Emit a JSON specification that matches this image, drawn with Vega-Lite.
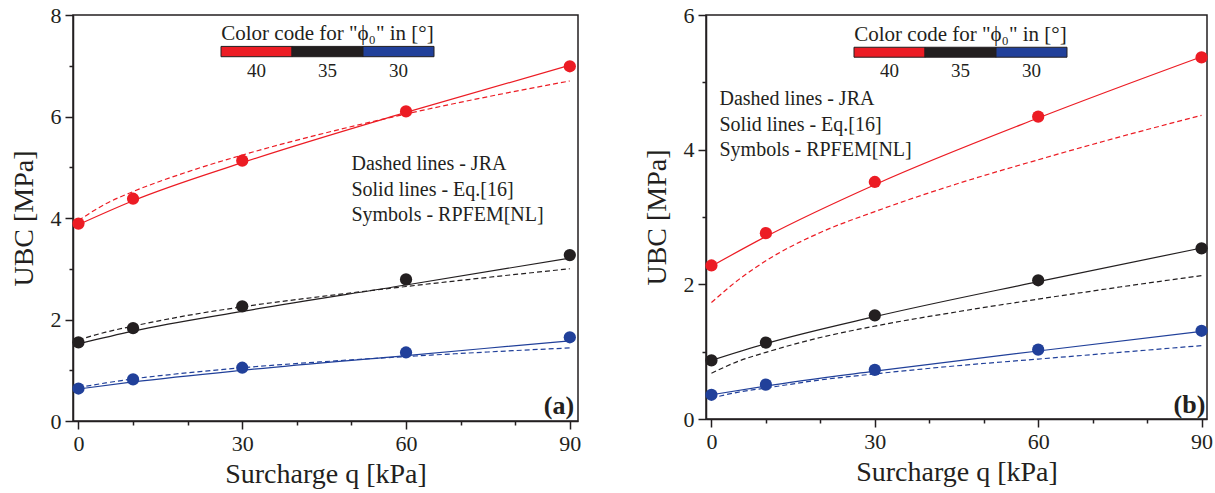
{
  "$schema": "https://vega.github.io/schema/vega-lite/v6.json",
  "background": "white",
  "padding": {"left": 9, "top": 3, "right": 2, "bottom": 5},
  "spacing": 60,
  "config": {
    "font": "Liberation Serif",
    "view": {"stroke": "#231f20", "strokeWidth": 1.5},
    "axis": {
      "grid": false,
      "domainColor": "#231f20", "domainWidth": 1.5,
      "tickColor": "#231f20", "tickWidth": 1.5,
      "labelFont": "Liberation Serif", "labelFontSize": 22, "labelColor": "#231f20",
      "titleFont": "Liberation Serif", "titleFontSize": 28, "titleFontWeight": "normal", "titleColor": "#231f20"
    }
  },
  "datasets": {
    "a": [
      {"phi": "40", "src": "FEM", "q": 0, "ubc": 3.89}, {"phi": "40", "src": "FEM", "q": 10, "ubc": 4.38}, {"phi": "40", "src": "FEM", "q": 30, "ubc": 5.13}, {"phi": "40", "src": "FEM", "q": 60, "ubc": 6.10}, {"phi": "40", "src": "FEM", "q": 90, "ubc": 6.99},
      {"phi": "40", "src": "Eq16", "q": 0, "ubc": 3.87}, {"phi": "40", "src": "Eq16", "q": 10, "ubc": 4.34}, {"phi": "40", "src": "Eq16", "q": 30, "ubc": 5.09}, {"phi": "40", "src": "Eq16", "q": 60, "ubc": 6.08}, {"phi": "40", "src": "Eq16", "q": 90, "ubc": 7.01},
      {"phi": "40", "src": "JRA", "q": 0, "ubc": 3.95}, {"phi": "40", "src": "JRA", "q": 5, "ubc": 4.28}, {"phi": "40", "src": "JRA", "q": 10, "ubc": 4.52}, {"phi": "40", "src": "JRA", "q": 20, "ubc": 4.91}, {"phi": "40", "src": "JRA", "q": 30, "ubc": 5.24}, {"phi": "40", "src": "JRA", "q": 45, "ubc": 5.67}, {"phi": "40", "src": "JRA", "q": 60, "ubc": 6.05}, {"phi": "40", "src": "JRA", "q": 75, "ubc": 6.39}, {"phi": "40", "src": "JRA", "q": 90, "ubc": 6.70},
      {"phi": "35", "src": "FEM", "q": 0, "ubc": 1.55}, {"phi": "35", "src": "FEM", "q": 10, "ubc": 1.83}, {"phi": "35", "src": "FEM", "q": 30, "ubc": 2.26}, {"phi": "35", "src": "FEM", "q": 60, "ubc": 2.79}, {"phi": "35", "src": "FEM", "q": 90, "ubc": 3.27},
      {"phi": "35", "src": "Eq16", "q": 0, "ubc": 1.52}, {"phi": "35", "src": "Eq16", "q": 10, "ubc": 1.77}, {"phi": "35", "src": "Eq16", "q": 30, "ubc": 2.16}, {"phi": "35", "src": "Eq16", "q": 60, "ubc": 2.68}, {"phi": "35", "src": "Eq16", "q": 90, "ubc": 3.21},
      {"phi": "35", "src": "JRA", "q": 0, "ubc": 1.60}, {"phi": "35", "src": "JRA", "q": 5, "ubc": 1.75}, {"phi": "35", "src": "JRA", "q": 10, "ubc": 1.87}, {"phi": "35", "src": "JRA", "q": 20, "ubc": 2.08}, {"phi": "35", "src": "JRA", "q": 30, "ubc": 2.25}, {"phi": "35", "src": "JRA", "q": 45, "ubc": 2.46}, {"phi": "35", "src": "JRA", "q": 60, "ubc": 2.65}, {"phi": "35", "src": "JRA", "q": 75, "ubc": 2.83}, {"phi": "35", "src": "JRA", "q": 90, "ubc": 3.00},
      {"phi": "30", "src": "FEM", "q": 0, "ubc": 0.64}, {"phi": "30", "src": "FEM", "q": 10, "ubc": 0.82}, {"phi": "30", "src": "FEM", "q": 30, "ubc": 1.05}, {"phi": "30", "src": "FEM", "q": 60, "ubc": 1.35}, {"phi": "30", "src": "FEM", "q": 90, "ubc": 1.65},
      {"phi": "30", "src": "Eq16", "q": 0, "ubc": 0.63}, {"phi": "30", "src": "Eq16", "q": 10, "ubc": 0.77}, {"phi": "30", "src": "Eq16", "q": 30, "ubc": 1.00}, {"phi": "30", "src": "Eq16", "q": 60, "ubc": 1.29}, {"phi": "30", "src": "Eq16", "q": 90, "ubc": 1.58},
      {"phi": "30", "src": "JRA", "q": 0, "ubc": 0.66}, {"phi": "30", "src": "JRA", "q": 5, "ubc": 0.75}, {"phi": "30", "src": "JRA", "q": 10, "ubc": 0.83}, {"phi": "30", "src": "JRA", "q": 20, "ubc": 0.95}, {"phi": "30", "src": "JRA", "q": 30, "ubc": 1.05}, {"phi": "30", "src": "JRA", "q": 45, "ubc": 1.17}, {"phi": "30", "src": "JRA", "q": 60, "ubc": 1.27}, {"phi": "30", "src": "JRA", "q": 75, "ubc": 1.36}, {"phi": "30", "src": "JRA", "q": 90, "ubc": 1.44}
    ],
    "b": [
      {"phi": "40", "src": "FEM", "q": 0, "ubc": 2.28}, {"phi": "40", "src": "FEM", "q": 10, "ubc": 2.76}, {"phi": "40", "src": "FEM", "q": 30, "ubc": 3.52}, {"phi": "40", "src": "FEM", "q": 60, "ubc": 4.49}, {"phi": "40", "src": "FEM", "q": 90, "ubc": 5.37},
      {"phi": "40", "src": "Eq16", "q": 0, "ubc": 2.27}, {"phi": "40", "src": "Eq16", "q": 10, "ubc": 2.71}, {"phi": "40", "src": "Eq16", "q": 30, "ubc": 3.48}, {"phi": "40", "src": "Eq16", "q": 60, "ubc": 4.47}, {"phi": "40", "src": "Eq16", "q": 90, "ubc": 5.38},
      {"phi": "40", "src": "JRA", "q": 0, "ubc": 1.73}, {"phi": "40", "src": "JRA", "q": 5, "ubc": 2.07}, {"phi": "40", "src": "JRA", "q": 10, "ubc": 2.35}, {"phi": "40", "src": "JRA", "q": 20, "ubc": 2.77}, {"phi": "40", "src": "JRA", "q": 30, "ubc": 3.08}, {"phi": "40", "src": "JRA", "q": 45, "ubc": 3.49}, {"phi": "40", "src": "JRA", "q": 60, "ubc": 3.85}, {"phi": "40", "src": "JRA", "q": 75, "ubc": 4.19}, {"phi": "40", "src": "JRA", "q": 90, "ubc": 4.51},
      {"phi": "35", "src": "FEM", "q": 0, "ubc": 0.87}, {"phi": "35", "src": "FEM", "q": 10, "ubc": 1.135}, {"phi": "35", "src": "FEM", "q": 30, "ubc": 1.54}, {"phi": "35", "src": "FEM", "q": 60, "ubc": 2.06}, {"phi": "35", "src": "FEM", "q": 90, "ubc": 2.535},
      {"phi": "35", "src": "Eq16", "q": 0, "ubc": 0.87}, {"phi": "35", "src": "Eq16", "q": 10, "ubc": 1.12}, {"phi": "35", "src": "Eq16", "q": 30, "ubc": 1.52}, {"phi": "35", "src": "Eq16", "q": 60, "ubc": 2.04}, {"phi": "35", "src": "Eq16", "q": 90, "ubc": 2.54},
      {"phi": "35", "src": "JRA", "q": 0, "ubc": 0.68}, {"phi": "35", "src": "JRA", "q": 5, "ubc": 0.86}, {"phi": "35", "src": "JRA", "q": 10, "ubc": 0.99}, {"phi": "35", "src": "JRA", "q": 20, "ubc": 1.21}, {"phi": "35", "src": "JRA", "q": 30, "ubc": 1.38}, {"phi": "35", "src": "JRA", "q": 45, "ubc": 1.59}, {"phi": "35", "src": "JRA", "q": 60, "ubc": 1.78}, {"phi": "35", "src": "JRA", "q": 75, "ubc": 1.96}, {"phi": "35", "src": "JRA", "q": 90, "ubc": 2.13},
      {"phi": "30", "src": "FEM", "q": 0, "ubc": 0.36}, {"phi": "30", "src": "FEM", "q": 10, "ubc": 0.51}, {"phi": "30", "src": "FEM", "q": 30, "ubc": 0.73}, {"phi": "30", "src": "FEM", "q": 60, "ubc": 1.03}, {"phi": "30", "src": "FEM", "q": 90, "ubc": 1.31},
      {"phi": "30", "src": "Eq16", "q": 0, "ubc": 0.36}, {"phi": "30", "src": "Eq16", "q": 10, "ubc": 0.49}, {"phi": "30", "src": "Eq16", "q": 30, "ubc": 0.71}, {"phi": "30", "src": "Eq16", "q": 60, "ubc": 1.01}, {"phi": "30", "src": "Eq16", "q": 90, "ubc": 1.30},
      {"phi": "30", "src": "JRA", "q": 0, "ubc": 0.31}, {"phi": "30", "src": "JRA", "q": 5, "ubc": 0.40}, {"phi": "30", "src": "JRA", "q": 10, "ubc": 0.46}, {"phi": "30", "src": "JRA", "q": 20, "ubc": 0.58}, {"phi": "30", "src": "JRA", "q": 30, "ubc": 0.67}, {"phi": "30", "src": "JRA", "q": 45, "ubc": 0.79}, {"phi": "30", "src": "JRA", "q": 60, "ubc": 0.89}, {"phi": "30", "src": "JRA", "q": 75, "ubc": 0.99}, {"phi": "30", "src": "JRA", "q": 90, "ubc": 1.09}
    ],
    "phis": [{"phi": "40"}, {"phi": "35"}, {"phi": "30"}]
  },
  "hconcat": [
    {
      "width": 505,
      "height": 406,
      "resolve": {"scale": {"x": "independent"}, "axis": {"x": "independent"}},
      "layer": [
        {
          "layer": [
            {
              "data": {"name": "a"},
              "encoding": {
                "x": {"field": "q", "type": "quantitative",
                  "scale": {"domain": [-1, 91.5], "nice": false, "zero": false},
                  "axis": {"title": "Surcharge q [kPa]", "values": [0, 10, 20, 30, 40, 50, 60, 70, 80, 90], "format": "d",
                    "labelExpr": "datum.value % 30 === 0 ? datum.label : ''",
                    "tickSize": {"condition": {"test": "datum.value % 30 !== 0", "value": 4}, "value": 8},
                    "labelPadding": 4, "titlePadding": 6}},
                "y": {"field": "ubc", "type": "quantitative",
                  "scale": {"domain": [0, 8], "nice": false},
                  "axis": {"title": "UBC [MPa]", "values": [0, 1, 2, 3, 4, 5, 6, 7, 8], "format": "d",
                    "labelExpr": "datum.value % 2 === 0 ? datum.label : ''",
                    "tickSize": {"condition": {"test": "datum.value % 2 !== 0", "value": 4}, "value": 8},
                    "labelPadding": 4, "titlePadding": 12}},
                "color": {"field": "phi", "type": "nominal", "scale": {"domain": ["40", "35", "30"], "range": ["#ec1c24", "#231f20", "#21409a"]}, "legend": null}
              },
              "layer": [
                {"transform": [{"filter": "datum.src === 'Eq16'"}],
                 "mark": {"type": "line", "strokeWidth": 1.2, "interpolate": "monotone"}},
                {"transform": [{"filter": "datum.src === 'JRA'"}],
                 "mark": {"type": "line", "strokeWidth": 1.2, "strokeDash": [5, 3], "interpolate": "monotone"}},
                {"transform": [{"filter": "datum.src === 'FEM'"}],
                 "mark": {"type": "circle", "size": 150, "opacity": 1}}
              ]
            },
            {
              "data": {"values": [{}]},
              "mark": {"type": "text", "align": "left", "baseline": "alphabetic", "fontSize": 20, "lineHeight": 25.7, "color": "#231f20",
                "text": ["Dashed lines - JRA", "Solid lines - Eq.[16]", "Symbols - RPFEM[NL]"]},
              "encoding": {"x": {"datum": 50, "type": "quantitative"}, "y": {"datum": 4.944, "type": "quantitative"}}
            },
            {
              "data": {"values": [{}]},
              "mark": {"type": "text", "align": "right", "baseline": "alphabetic", "fontSize": 26, "fontWeight": "bold", "color": "#231f20", "text": "(a)"},
              "encoding": {"x": {"datum": 90.8, "type": "quantitative"}, "y": {"datum": 0.14, "type": "quantitative"}}
            }
          ]
        },
        {
          "data": {"name": "phis"},
          "encoding": {
            "x": {"field": "phi", "type": "ordinal",
              "scale": {"domain": ["40", "35", "30"], "range": [148, 361], "paddingInner": 0, "paddingOuter": 0}, "axis": null}
          },
          "layer": [
            {"mark": {"type": "rect", "stroke": "#231f20", "strokeWidth": 1},
             "encoding": {"y": {"datum": 7.381, "type": "quantitative"}, "y2": {"datum": 7.178},
               "color": {"field": "phi", "type": "nominal", "legend": null}}},
            {"mark": {"type": "text", "baseline": "alphabetic", "fontSize": 19, "color": "#231f20"},
             "encoding": {"y": {"datum": 6.784, "type": "quantitative"}, "text": {"field": "phi"}}},
            {"transform": [{"filter": "datum.phi === '35'"}],
             "mark": {"type": "text", "baseline": "alphabetic", "fontSize": 21, "color": "#231f20", "text": "Color code for \"ϕ₀\" in [°]"},
             "encoding": {"y": {"datum": 7.513, "type": "quantitative"}}}
          ]
        }
      ]
    },
    {
      "width": 501,
      "height": 404,
      "resolve": {"scale": {"x": "independent"}, "axis": {"x": "independent"}},
      "layer": [
        {
          "layer": [
            {
              "data": {"name": "b"},
              "encoding": {
                "x": {"field": "q", "type": "quantitative",
                  "scale": {"domain": [-1, 91], "nice": false, "zero": false},
                  "axis": {"title": "Surcharge q [kPa]", "values": [0, 10, 20, 30, 40, 50, 60, 70, 80, 90], "format": "d",
                    "labelExpr": "datum.value % 30 === 0 ? datum.label : ''",
                    "tickSize": {"condition": {"test": "datum.value % 30 !== 0", "value": 4}, "value": 8},
                    "labelPadding": 4, "titlePadding": 6}},
                "y": {"field": "ubc", "type": "quantitative",
                  "scale": {"domain": [0, 6], "nice": false},
                  "axis": {"title": "UBC [MPa]", "values": [0, 1, 2, 3, 4, 5, 6], "format": "d",
                    "labelExpr": "datum.value % 2 === 0 ? datum.label : ''",
                    "tickSize": {"condition": {"test": "datum.value % 2 !== 0", "value": 4}, "value": 8},
                    "labelPadding": 4, "titlePadding": 12}},
                "color": {"field": "phi", "type": "nominal", "scale": {"domain": ["40", "35", "30"], "range": ["#ec1c24", "#231f20", "#21409a"]}, "legend": null}
              },
              "layer": [
                {"transform": [{"filter": "datum.src === 'Eq16'"}],
                 "mark": {"type": "line", "strokeWidth": 1.2, "interpolate": "monotone"}},
                {"transform": [{"filter": "datum.src === 'JRA'"}],
                 "mark": {"type": "line", "strokeWidth": 1.2, "strokeDash": [5, 3], "interpolate": "monotone"}},
                {"transform": [{"filter": "datum.src === 'FEM'"}],
                 "mark": {"type": "circle", "size": 150, "opacity": 1}}
              ]
            },
            {
              "data": {"values": [{}]},
              "mark": {"type": "text", "align": "left", "baseline": "alphabetic", "fontSize": 20, "lineHeight": 25.7, "color": "#231f20",
                "text": ["Dashed lines - JRA", "Solid lines - Eq.[16]", "Symbols - RPFEM[NL]"]},
              "encoding": {"x": {"datum": 1.47, "type": "quantitative"}, "y": {"datum": 4.665, "type": "quantitative"}}
            },
            {
              "data": {"values": [{}]},
              "mark": {"type": "text", "align": "right", "baseline": "alphabetic", "fontSize": 26, "fontWeight": "bold", "color": "#231f20", "text": "(b)"},
              "encoding": {"x": {"datum": 90.7, "type": "quantitative"}, "y": {"datum": 0.09, "type": "quantitative"}}
            }
          ]
        },
        {
          "data": {"name": "phis"},
          "encoding": {
            "x": {"field": "phi", "type": "ordinal",
              "scale": {"domain": ["40", "35", "30"], "range": [148, 361], "paddingInner": 0, "paddingOuter": 0}, "axis": null}
          },
          "layer": [
            {"mark": {"type": "rect", "stroke": "#231f20", "strokeWidth": 1},
             "encoding": {"y": {"datum": 5.521, "type": "quantitative"}, "y2": {"datum": 5.373},
               "color": {"field": "phi", "type": "nominal", "legend": null}}},
            {"mark": {"type": "text", "baseline": "alphabetic", "fontSize": 19, "color": "#231f20"},
             "encoding": {"y": {"datum": 5.08, "type": "quantitative"}, "text": {"field": "phi"}}},
            {"transform": [{"filter": "datum.phi === '35'"}],
             "mark": {"type": "text", "baseline": "alphabetic", "fontSize": 21, "color": "#231f20", "text": "Color code for \"ϕ₀\" in [°]"},
             "encoding": {"y": {"datum": 5.619, "type": "quantitative"}}}
          ]
        }
      ]
    }
  ]
}
